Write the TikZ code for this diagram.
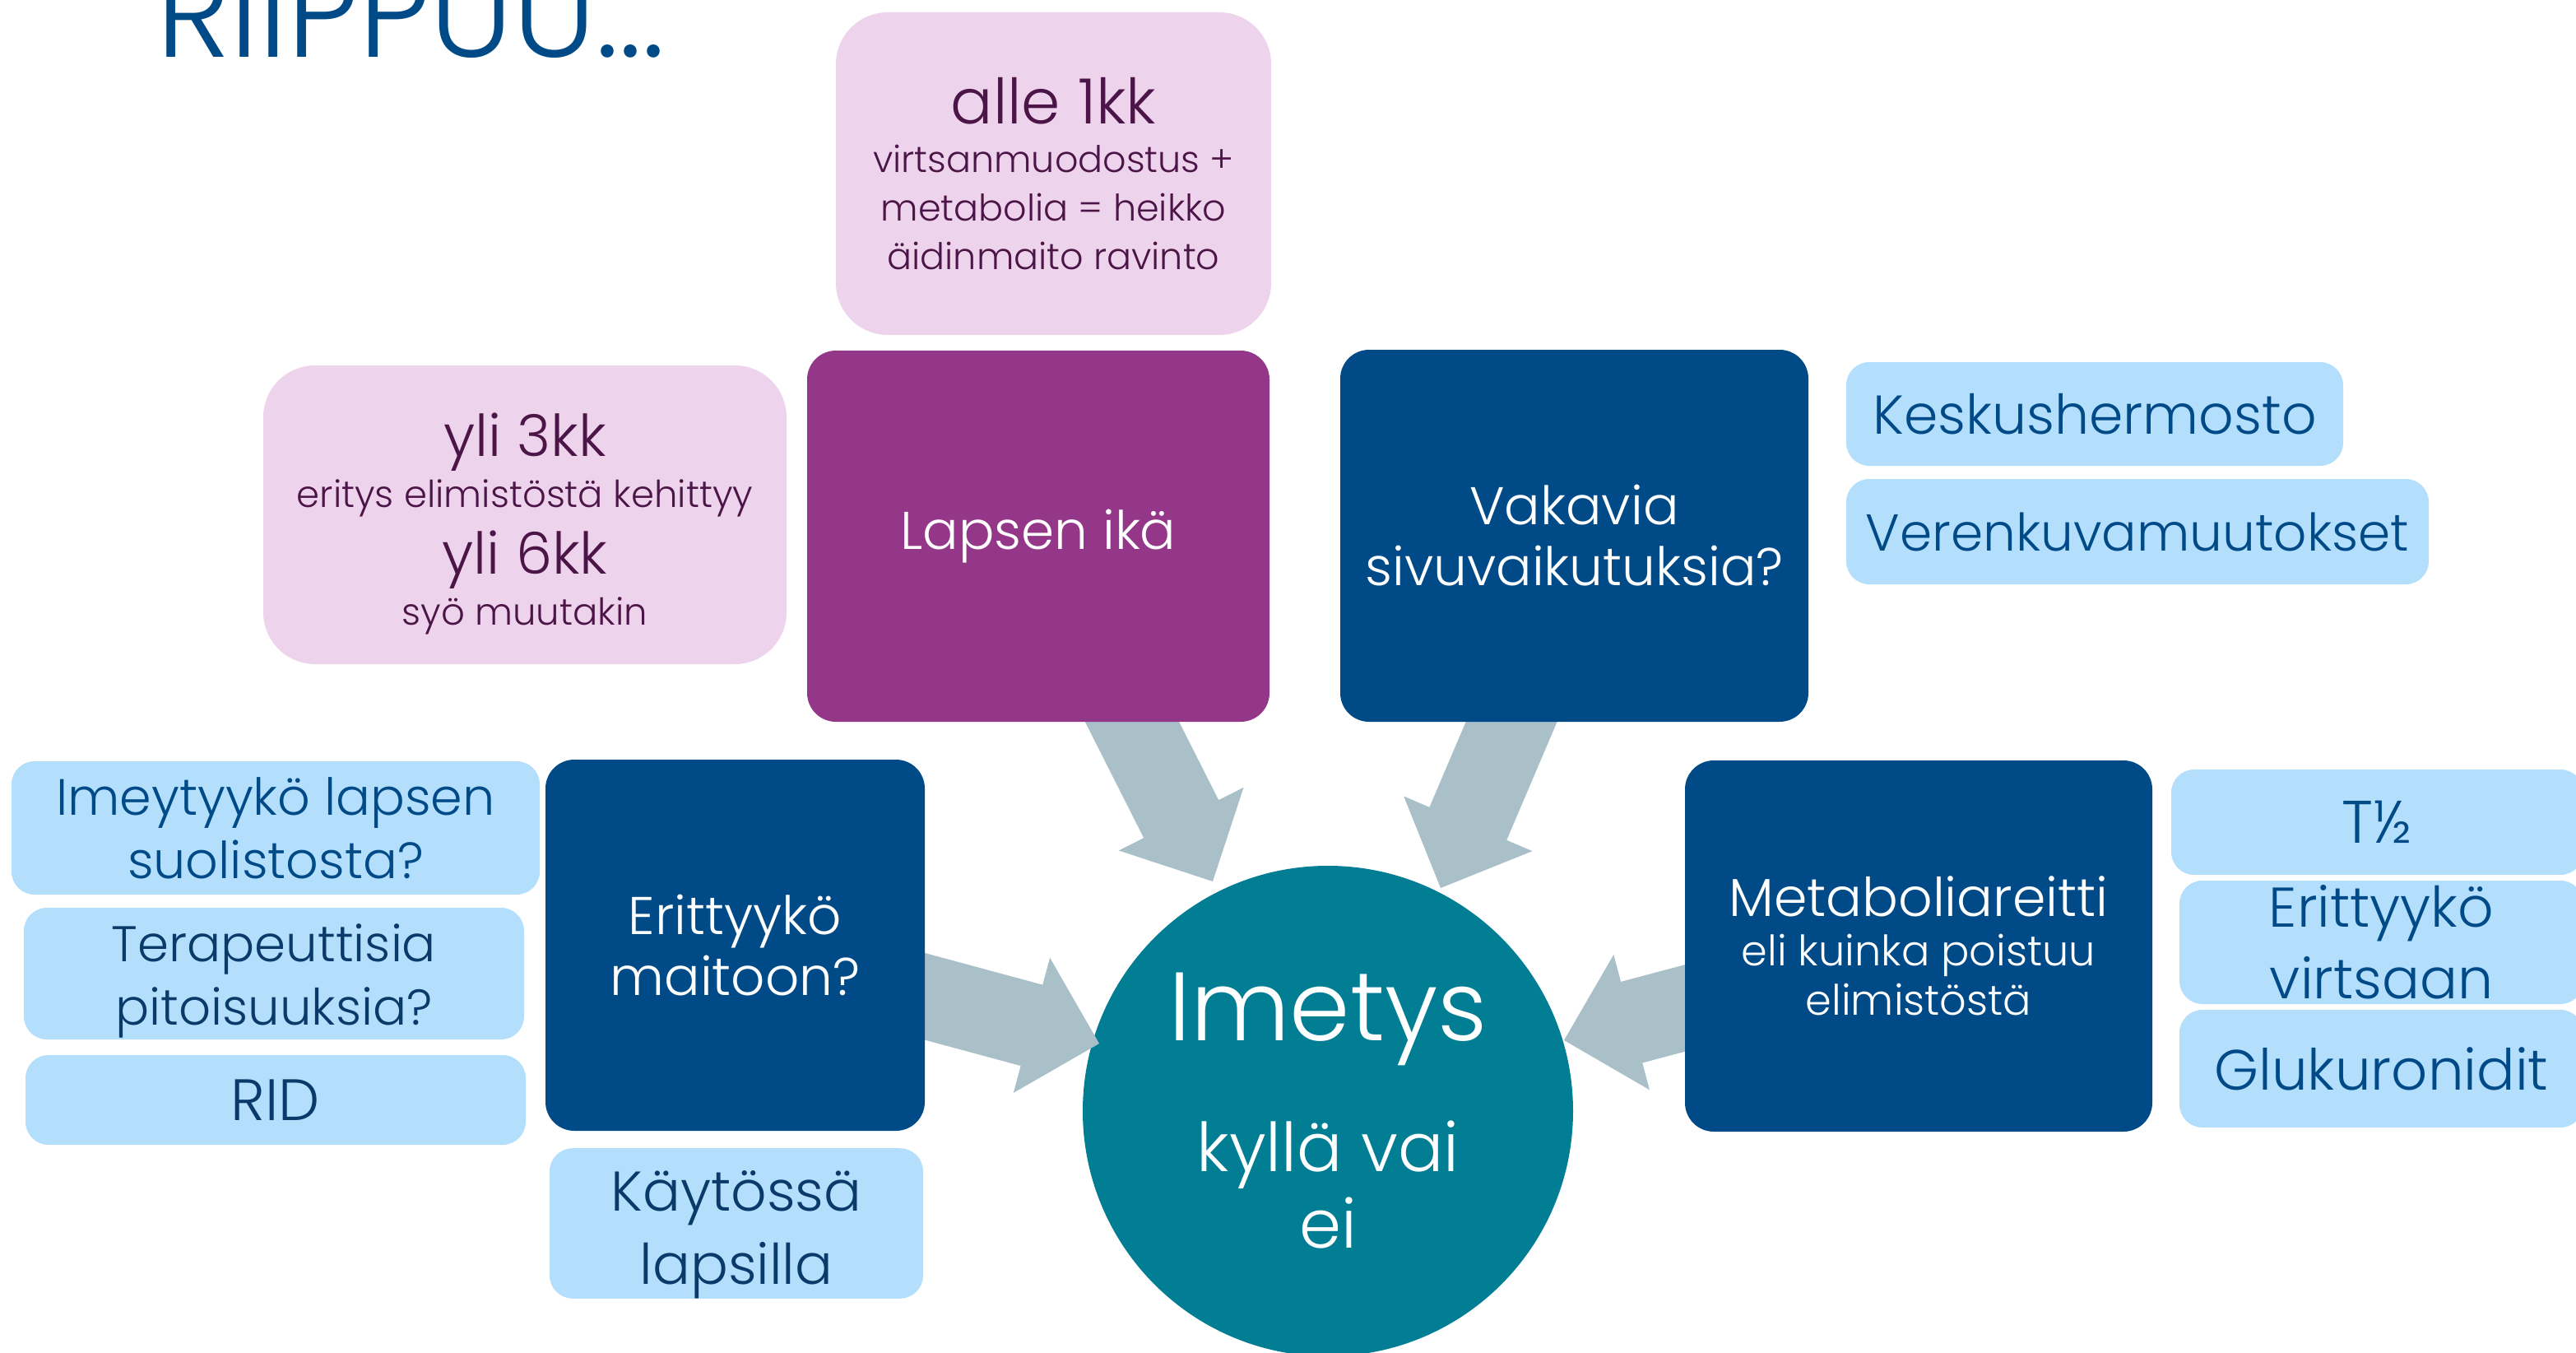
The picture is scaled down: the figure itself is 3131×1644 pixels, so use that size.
\documentclass[tikz,border=0pt]{standalone}
\usepackage{fontspec}
\setmainfont{Poppins}[UprightFont={* Light}]
\usetikzlibrary{calc}
\pgfdeclarelayer{bg}
\pgfsetlayers{bg,main}
\definecolor{darkblue}{RGB}{0,75,135}
\definecolor{ikapurple}{RGB}{148,55,137}
\definecolor{pinkfill}{RGB}{238,211,236}
\definecolor{pinktext}{RGB}{76,21,71}
\definecolor{lightbluefill}{RGB}{179,222,252}
\definecolor{navytext}{RGB}{0,74,135}
\definecolor{darknavy}{RGB}{10,58,105}
\definecolor{imetysteal}{RGB}{2,126,148}
\definecolor{arrowgray}{RGB}{170,192,201}
\newcommand{\blockarrow}[2]{%
  \path ($(#2)!8.5mm!(#1)$) coordinate (ah);
  \fill[arrowfill] (#2) -- ($(ah)!8.5mm!90:(#2)$) -- ($(ah)!5.1mm!90:(#2)$)
    -- ($(#1)!5.1mm!90:(#2)$) -- ($(#1)!5.1mm!-90:(#2)$)
    -- ($(ah)!5.1mm!-90:(#2)$) -- ($(ah)!8.5mm!-90:(#2)$) -- cycle;
}
\begin{document}
\begin{tikzpicture}[x=0.1mm,y=-0.1mm,
  every node/.style={inner sep=0pt, outer sep=0pt, align=center},
  darkbox/.style={fill=darkblue, rounded corners=3.5mm, text=white, font=\fontsize{6.45mm}{7.4mm}\selectfont},
  purplebox/.style={darkbox, fill=ikapurple},
  pinkbox/.style={fill=pinkfill, rounded corners=6.3mm, text=pinktext},
  bluebox/.style={fill=lightbluefill, rounded corners=2.8mm, text=navytext},
  arrowfill/.style={fill=arrowgray},
  hub/.style={circle, fill=imetysteal, text=white, minimum size=59.6mm}]
\useasboundingbox (0,0) rectangle (3131,1644);

\node[anchor=base west, text=darkblue, font=\fontsize{15.3mm}{15.3mm}\selectfont] (title) at (190,70) {RIIPPUU...};

\node[pinkbox, minimum width=52.9mm, minimum height=39.2mm, font=\fontsize{4.45mm}{5.9mm}\selectfont] (alle) at (1280.5,211)
  {{\fontsize{7.6mm}{7.6mm}\selectfont alle 1kk}\\virtsanmuodostus +\\metabolia = heikko\\äidinmaito ravinto};
\node[purplebox, minimum width=56.2mm, minimum height=45.1mm] (ika) at (1262,651.5) {Lapsen ikä};
\node[pinkbox, minimum width=63.6mm, minimum height=36.3mm, font=\fontsize{4.5mm}{6.2mm}\selectfont] (yli) at (638,625.5)
  {\rule{0pt}{7.4mm}{\fontsize{7mm}{7mm}\selectfont yli 3kk}\\eritys elimistöstä kehittyy\\[1.3mm]{\fontsize{7mm}{7mm}\selectfont yli 6kk}\\syö muutakin};
\node[darkbox, minimum width=56.9mm, minimum height=45.2mm] (vakavia) at (1913.5,651) {Vakavia\\sivuvaikutuksia?};
\node[bluebox, minimum width=60.4mm, minimum height=12.6mm, font=\fontsize{6.65mm}{6.65mm}\selectfont] (kesk) at (2546,503) {Keskushermosto};
\node[bluebox, minimum width=70.8mm, minimum height=12.8mm, font=\fontsize{6.3mm}{6.3mm}\selectfont] (veren) at (2598,646) {Verenkuvamuutokset};

\node[darkbox, minimum width=46.1mm, minimum height=45.1mm] (maitoon) at (893.5,1148.5) {Erittyykö\\maitoon?};
\node[bluebox, minimum width=64.2mm, minimum height=16.2mm, font=\fontsize{6.2mm}{7.7mm}\selectfont] (imeytyy) at (335,1006) {Imeytyykö lapsen\\suolistosta?};
\node[bluebox, text=darknavy, minimum width=60.8mm, minimum height=16mm, font=\fontsize{6.1mm}{7.7mm}\selectfont] (terap) at (333,1183) {\rule{0pt}{6.3mm}Terapeuttisia\\pitoisuuksia?};
\node[bluebox, text=darknavy, minimum width=60.8mm, minimum height=10.9mm, font=\fontsize{7.1mm}{7.1mm}\selectfont] (rid) at (335,1336.5) {RID};
\node[bluebox, text=darknavy, minimum width=45.4mm, minimum height=18.1mm, font=\fontsize{6.8mm}{8.9mm}\selectfont] (kaytossa) at (895,1486.5) {\rule{0pt}{7.6mm}Käytössä\\lapsilla};

\node[darkbox, minimum width=56.8mm, minimum height=45.1mm, font=\fontsize{5.1mm}{6.0mm}\selectfont] (metabolia) at (2332,1149.5)
  {{\fontsize{6.5mm}{6.5mm}\selectfont Metaboliareitti}\\eli kuinka poistuu\\elimistöstä};
\node[bluebox, minimum width=50.1mm, minimum height=12.8mm, font=\fontsize{7.3mm}{7.3mm}\selectfont] (thalf) at (2889.5,999) {T½};
\node[bluebox, minimum width=49.1mm, minimum height=15mm, font=\fontsize{6.8mm}{8.7mm}\selectfont] (virtsaan) at (2894.5,1145) {Erittyykö\\virtsaan};
\node[bluebox, minimum width=49.1mm, minimum height=14.3mm, font=\fontsize{6.9mm}{6.9mm}\selectfont] (gluk) at (2894.5,1298.5) {Glukuronidit};

\begin{pgfonlayer}{bg}
\node[hub, font=\fontsize{8.2mm}{9.3mm}\selectfont] (imetys) at (1614,1350)
  {{\fontsize{11.8mm}{11.8mm}\selectfont Imetys}\\[6.6mm]kyllä vai\\ei};
\coordinate (tail2) at ($(vakavia.center)+(20,0)$);
\coordinate (tip1) at (1474,1071);
\coordinate (tip2) at (1751,1079);
\coordinate (tip3) at (1336,1268);
\coordinate (tip4) at (1901,1264);
\blockarrow{ika.center}{tip1}
\blockarrow{tail2}{tip2}
\blockarrow{maitoon.center}{tip3}
\blockarrow{metabolia.center}{tip4}
\end{pgfonlayer}
\end{tikzpicture}
\end{document}
